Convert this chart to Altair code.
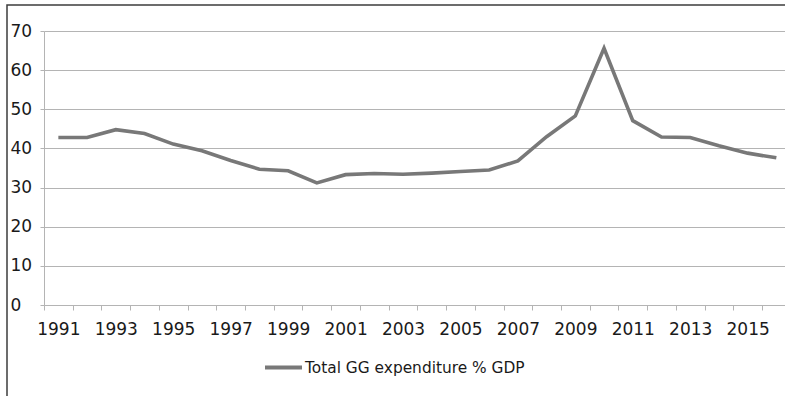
import altair as alt
import pandas as pd

# Total general-government expenditure, % of GDP
years = list(range(1991, 2017))
expenditure = [
    42.8, 42.8, 44.8, 43.8, 41.1, 39.4, 36.9, 34.7, 34.3, 31.2,
    33.3, 33.6, 33.4, 33.7, 34.1, 34.5, 36.8, 43.0, 48.3, 65.6,
    47.1, 42.9, 42.8, 40.7, 38.8, 37.6,
]
series_name = "Total GG expenditure % GDP"
y_ticks = [0, 10, 20, 30, 40, 50, 60, 70]

df = pd.DataFrame({"year": years, "value": expenditure, "series": series_name})

W, H = 741, 274
band = 28.72  # one year on the x scale, in pixels
LINE = "#787878"
GRID = "#b4b4b4"
FONT = "DejaVu Sans"

x_enc = alt.X(
    "year:Q",
    scale=alt.Scale(domain=[1990.5, 1990.5 + W / band], nice=False, zero=False),
    axis=alt.Axis(
        values=years,
        labelExpr="datum.value % 2 == 1 ? format(datum.value, 'd') : ''",
        tickOffset=-band / 2,
        labelOffset=band / 2,
        tickSize=5,
        tickColor=GRID,
        domainColor=GRID,
        grid=False,
        labelFlush=False,
        labelOverlap=False,
        labelBound=False,
        labelPadding=11,
        labelFontSize=17,
        labelFont=FONT,
        labelColor="#1a1a1a",
        title=None,
    ),
)

y_enc = alt.Y(
    "value:Q",
    scale=alt.Scale(domain=[0, 70], nice=False),
    axis=alt.Axis(
        values=y_ticks,
        grid=True,
        gridColor=GRID,
        gridWidth=1.2,
        domainColor=GRID,
        tickColor=GRID,
        tickSize=4,
        labelAlign="left",
        labelBaseline="middle",
        labelPadding=30,
        labelFontSize=17,
        labelFont=FONT,
        labelColor="#1a1a1a",
        title=None,
    ),
)

line = alt.Chart(df).mark_line(strokeWidth=3.6, strokeJoin="miter").encode(
    x=x_enc,
    y=y_enc,
    color=alt.Color(
        "series:N",
        scale=alt.Scale(domain=[series_name], range=[LINE]),
        legend=alt.Legend(
            title=None,
            orient="none",
            legendX=219,
            legendY=316,
            symbolType="stroke",
            symbolSize=37 * 37,
            symbolStrokeWidth=4,
            labelFontSize=15.4,
            labelFont=FONT,
            labelColor="#1a1a1a",
            labelOffset=1,
            labelLimit=0,
            padding=0,
        ),
    ),
)

# outer chart frame
frame = alt.Chart(alt.Data(values=[{}])).mark_rect(
    fillOpacity=0, stroke="#3c3c3c", strokeWidth=1.5
).encode(
    x=alt.value(-37), x2=alt.value(820),
    y=alt.value(-26), y2=alt.value(420),
)

chart = alt.layer(frame, line).properties(
    width=W,
    height=H,
    autosize=alt.AutoSizeParams(type="none"),
    padding={"left": 44, "top": 31, "right": 0, "bottom": 91},
    background="white",
).configure_view(stroke=None)

chart.save("out.html", embed_options={"renderer": "svg", "actions": False})
